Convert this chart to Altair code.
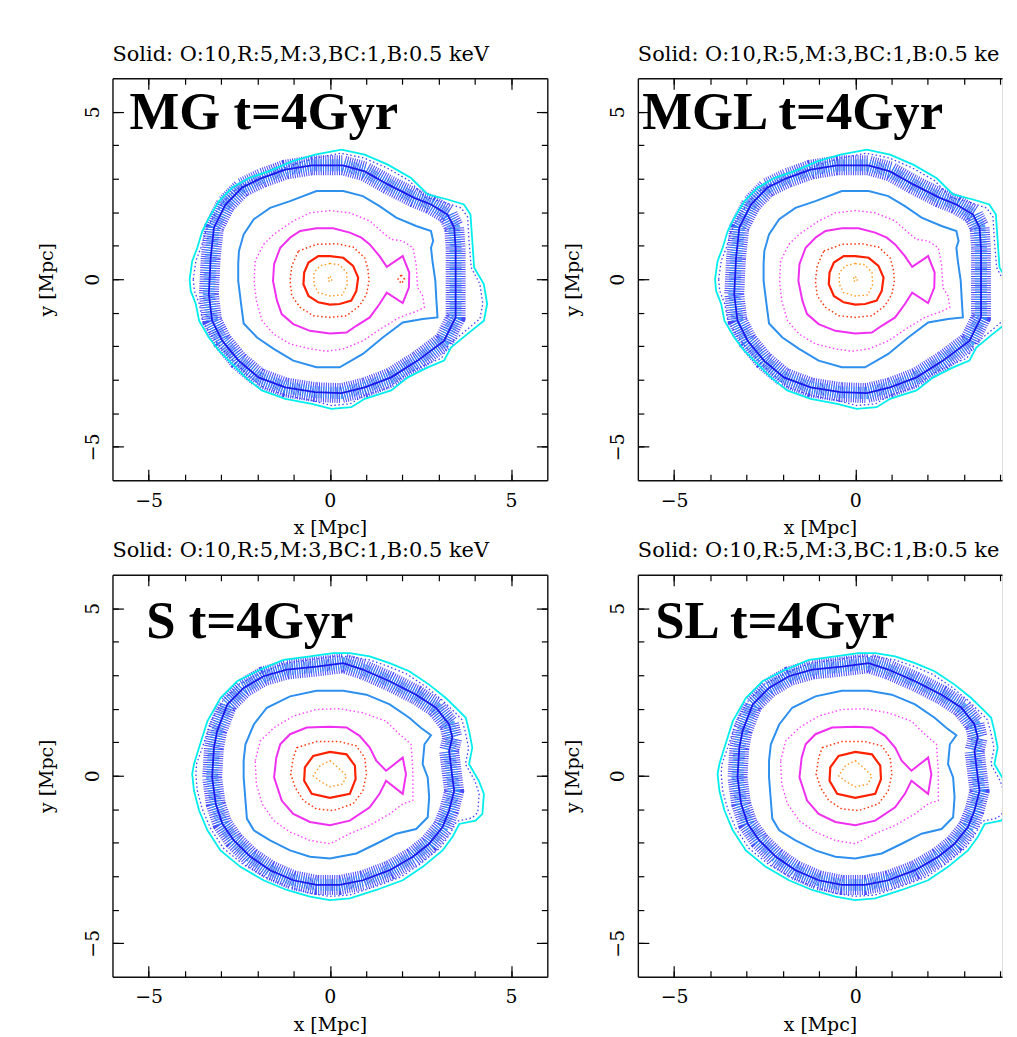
import altair as alt
import pandas as pd

# ---------------- contour data (x, y in Mpc) ----------------
# MG / MGL panels (top row)
TL_ORANGE = [(0, 0.47), (0.27, 0.43), (0.46, 0.2), (0.48, -0.15), (0.35, -0.47), (0, -0.5),
             (-0.32, -0.4), (-0.44, -0.15), (-0.44, 0.2), (-0.27, 0.4)]
TL_CORE = [(0, 0.08), (0.07, 0), (0, -0.08), (-0.07, 0)]
TL_RED = [(0, 0.69), (0.37, 0.64), (0.64, 0.40), (0.78, 0.05), (0.73, -0.35), (0.59, -0.64),
          (0.27, -0.74), (0, -0.76), (-0.32, -0.69), (-0.59, -0.50), (-0.73, -0.15),
          (-0.71, 0.20), (-0.59, 0.50), (-0.32, 0.69)]
TL_REDDOT = [(-0.87, 0.84), (-0.37, 1.04), (0.18, 1.06), (0.64, 0.96), (0.96, 0.64), (1.05, 0.30),
             (1.08, -0.05), (1.01, -0.45), (0.82, -0.79), (0.46, -1.09), (0, -1.14),
             (-0.46, -1.09), (-0.82, -0.84), (-1.05, -0.50), (-1.10, -0.05), (-1.05, 0.40)]
TL_BLOB = [(1.97, 0.13), (2.06, 0), (1.97, -0.13), (1.88, 0)]
TL_MAG = [(-1.10, 1.24), (-0.82, 1.44), (-0.37, 1.52), (0.09, 1.52), (0.55, 1.39), (0.87, 1.24),
          (1.10, 1.04), (1.37, 0.69), (1.57, 0.37), (2.01, 0.69), (2.19, 0.20), (2.18, -0.25),
          (2.01, -0.71), (1.57, -0.40), (1.37, -0.74), (1.10, -1.14), (0.73, -1.39),
          (0.46, -1.59), (0, -1.62), (-0.55, -1.54), (-1.01, -1.34), (-1.33, -1.04),
          (-1.46, -0.64), (-1.57, -0.05), (-1.54, 0.45), (-1.37, 0.94)]
TL_MAGDOT = [(-1.83, 1.04), (-1.55, 1.34), (-1.01, 1.74), (-0.55, 1.98), (0, 2.05), (0.55, 1.98),
             (1.10, 1.74), (1.46, 1.39), (1.69, 1.19), (2.01, 1.14), (2.29, 0.94), (2.38, 0.45),
             (2.42, -0.25), (2.56, -0.50), (2.61, -0.84), (2.38, -0.96), (1.92, -1.14),
             (1.46, -1.44), (0.91, -1.84), (0.37, -2.08), (-0.09, -2.15), (-0.55, -2.08),
             (-1.10, -1.93), (-1.55, -1.64), (-1.87, -1.24), (-2.03, -0.64), (-2.09, -0.05),
             (-2.06, 0.55)]
TL_BLUE = [(-2.53, 0.45), (-2.51, 0.84), (-2.38, 1.34), (-2.10, 1.79), (-1.65, 2.13), (-1.10, 2.33),
           (-0.37, 2.63), (0.37, 2.63), (0.91, 2.48), (1.37, 2.18), (1.83, 1.84), (2.38, 1.59),
           (2.79, 1.44), (2.85, 1.14), (2.79, 0.94), (2.83, 0.55), (2.91, -0.05), (2.94, -0.64),
           (2.97, -1.14), (2.56, -1.19), (2.01, -1.29), (1.46, -1.74), (0.91, -2.23),
           (0.27, -2.63), (-0.37, -2.63), (-1.01, -2.43), (-1.55, -2.08), (-2.01, -1.74),
           (-2.38, -1.32), (-2.45, -0.74), (-2.53, -0.05)]
TL_DARK = [(-3.29, 0.64), (-3.20, 1.54), (-2.88, 2.23), (-2.43, 2.73), (-1.88, 3.02), (-1.23, 3.27),
           (-0.50, 3.40), (0.36, 3.40), (0.96, 3.22), (1.60, 2.83), (2.33, 2.43), (2.79, 2.23),
           (3.25, 1.93), (3.43, 1.54), (3.47, 0.94), (3.47, 0.15), (3.47, -0.65), (3.47, -1.14),
           (3.15, -1.84), (2.42, -2.43), (1.69, -2.93), (0.96, -3.23), (0.32, -3.40),
           (-0.41, -3.37), (-1.23, -3.23), (-1.97, -2.93), (-2.52, -2.43), (-2.97, -1.84),
           (-3.25, -1.24), (-3.34, -0.45)]
TL_CYAN = [(-3.87, 0.0), (-3.80, 0.54), (-3.66, 0.94), (-3.52, 1.44), (-3.34, 1.83), (-3.06, 2.33),
           (-2.70, 2.73), (-2.24, 3.02), (-1.69, 3.22), (-1.05, 3.52), (-0.41, 3.72), (0.32, 3.87),
           (0.96, 3.72), (1.60, 3.42), (2.24, 3.02), (2.70, 2.53), (3.25, 2.38), (3.70, 2.23),
           (3.88, 1.93), (3.93, 1.14), (3.98, 0.35), (4.25, -0.15), (4.34, -0.74), (4.25, -1.24),
           (3.79, -1.64), (3.34, -2.04), (3.15, -2.43), (2.70, -2.63), (2.15, -2.93),
           (1.69, -3.32), (0.96, -3.57), (0.59, -3.82), (0.04, -3.87), (-0.50, -3.72),
           (-1.23, -3.57), (-1.88, -3.32), (-2.33, -2.93), (-2.70, -2.53), (-3.06, -2.13),
           (-3.34, -1.74), (-3.61, -1.24), (-3.70, -0.74), (-3.84, -0.35)]
TL_OUTER = [(-3.77, 0.0), (-3.70, 0.54), (-3.56, 0.94), (-3.42, 1.44), (-3.24, 1.83), (-2.96, 2.28),
            (-2.62, 2.65), (-2.18, 2.93), (-1.65, 3.12), (-1.02, 3.42), (-0.40, 3.62), (0.30, 3.76),
            (0.94, 3.62), (1.56, 3.33), (2.18, 2.95), (2.64, 2.45), (3.20, 2.28), (3.62, 2.13),
            (3.80, 1.86), (3.84, 1.14), (3.90, 0.35), (4.14, -0.15), (4.22, -0.74), (4.14, -1.18),
            (3.72, -1.56), (3.27, -1.97), (3.08, -2.36), (2.64, -2.55), (2.10, -2.84),
            (1.64, -3.22), (0.94, -3.47), (0.56, -3.72), (0.04, -3.77), (-0.50, -3.62),
            (-1.21, -3.47), (-1.84, -3.23), (-2.27, -2.86), (-2.63, -2.47), (-2.98, -2.08),
            (-3.26, -1.70), (-3.52, -1.22), (-3.60, -0.74), (-3.74, -0.35)]

# S / SL panels (bottom row)
S_ORANGE = [(0, 0.45), (0.25, 0.22), (0.46, 0.0), (0.35, -0.25), (0, -0.33), (-0.25, -0.18),
            (-0.46, 0.0), (-0.27, 0.30)]
S_RED = [(0, 0.71), (0.46, 0.64), (0.69, 0.30), (0.71, -0.10), (0.55, -0.54), (0, -0.66),
         (-0.50, -0.54), (-0.71, -0.15), (-0.69, 0.25), (-0.46, 0.59)]
S_REDDOT = [(-0.91, 0.84), (-0.37, 1.02), (0.27, 1.02), (0.73, 0.89), (0.96, 0.54), (1.01, 0.05),
            (0.91, -0.45), (0.64, -0.84), (0.09, -1.04), (-0.37, -0.99), (-0.73, -0.74),
            (-0.96, -0.35), (-1.08, 0.05), (-1.01, 0.54)]
S_MAG = [(-1.37, 0.94), (-1.10, 1.24), (-0.64, 1.44), (0, 1.46), (0.46, 1.44), (0.82, 1.19),
         (1.10, 0.84), (1.28, 0.45), (1.55, 0.15), (2.01, 0.54), (2.10, 0.05), (2.01, -0.54),
         (1.55, -0.15), (1.37, -0.54), (1.10, -0.94), (0.55, -1.34), (0, -1.48), (-0.55, -1.38),
         (-1.01, -1.14), (-1.33, -0.74), (-1.54, -0.05), (-1.48, 0.54)]
S_MAGDOT = [(-2.06, 0.45), (-1.92, 1.04), (-1.55, 1.43), (-1.01, 1.78), (-0.37, 1.98), (0.27, 2.00),
            (0.91, 1.88), (1.55, 1.63), (1.92, 1.24), (2.24, 0.94), (2.29, 0.15), (2.29, -0.74),
            (2.01, -0.84), (1.65, -1.14), (1.10, -1.48), (0.55, -1.73), (0, -2.03),
            (-0.55, -1.93), (-1.10, -1.68), (-1.55, -1.34), (-1.87, -0.84), (-2.03, -0.25)]
S_BLUE = [(-2.38, 0.45), (-2.33, 0.94), (-2.10, 1.53), (-1.74, 2.03), (-1.10, 2.37), (-0.37, 2.54),
          (0.37, 2.54), (1.01, 2.42), (1.65, 2.13), (2.19, 1.73), (2.51, 1.43), (2.79, 1.21),
          (2.61, 0.94), (2.56, 0.35), (2.70, -0.05), (2.74, -0.64), (2.70, -1.24), (2.38, -1.59),
          (1.83, -1.73), (1.28, -2.03), (0.73, -2.32), (0, -2.47), (-0.55, -2.42),
          (-1.10, -2.23), (-1.65, -1.93), (-2.10, -1.63), (-2.29, -1.28), (-2.33, -0.74),
          (-2.38, -0.05)]
S_DARK = [(-3.20, 0.84), (-3.11, 1.34), (-2.83, 2.13), (-2.38, 2.62), (-1.83, 2.97), (-1.19, 3.17),
          (-0.37, 3.26), (0.37, 3.36), (0.91, 3.17), (1.65, 2.82), (2.38, 2.42), (2.93, 2.03),
          (3.29, 1.53), (3.38, 1.14), (3.29, 0.74), (3.38, -0.05), (3.43, -0.45), (3.29, -1.04),
          (3.11, -1.53), (2.74, -2.03), (2.29, -2.42), (1.65, -2.82), (0.91, -3.12),
          (0.27, -3.26), (-0.37, -3.26), (-1.01, -3.12), (-1.65, -2.82), (-2.19, -2.42),
          (-2.65, -1.93), (-2.97, -1.43), (-3.15, -0.84), (-3.25, -0.05)]
S_CYAN = [(-3.75, 0.35), (-3.61, 0.84), (-3.38, 1.63), (-3.02, 2.32), (-2.56, 2.82), (-1.92, 3.17),
          (-1.28, 3.46), (-0.55, 3.56), (0.09, 3.66), (0.55, 3.66), (1.10, 3.56), (1.65, 3.36),
          (2.19, 3.12), (2.74, 2.72), (3.20, 2.32), (3.57, 1.93), (3.75, 1.73), (3.84, 1.34),
          (3.93, 0.84), (3.84, 0.35), (4.11, -0.15), (4.25, -0.54), (4.21, -1.14), (4.02, -1.34),
          (3.57, -1.44), (3.38, -1.83), (3.11, -2.23), (2.56, -2.72), (2.01, -3.12),
          (1.28, -3.41), (0.55, -3.66), (0, -3.71), (-0.55, -3.61), (-1.19, -3.41),
          (-1.83, -3.12), (-2.47, -2.72), (-3.02, -2.23), (-3.38, -1.63), (-3.61, -1.04),
          (-3.75, -0.45), (-3.80, 0.05)]
S_OUTER = [(-3.68, 0.35), (-3.52, 0.84), (-3.29, 1.60), (-2.94, 2.26), (-2.50, 2.74), (-1.88, 3.08),
           (-1.25, 3.36), (-0.55, 3.46), (0.09, 3.56), (0.55, 3.56), (1.08, 3.46), (1.60, 3.27),
           (2.13, 3.03), (2.66, 2.65), (3.10, 2.26), (3.46, 1.88), (3.64, 1.68), (3.74, 1.30),
           (3.83, 0.82), (3.74, 0.35), (4.00, -0.15), (4.12, -0.54), (4.08, -1.10), (3.92, -1.26),
           (3.50, -1.36), (3.30, -1.76), (3.04, -2.15), (2.50, -2.63), (1.96, -3.02),
           (1.25, -3.31), (0.55, -3.56), (0, -3.60), (-0.55, -3.51), (-1.16, -3.31),
           (-1.78, -3.03), (-2.40, -2.64), (-2.94, -2.16), (-3.29, -1.58), (-3.52, -1.00),
           (-3.66, -0.44), (-3.70, 0.05)]

PANEL_LABELS = ["MG t=4Gyr", "MGL t=4Gyr", "S t=4Gyr", "SL t=4Gyr"]
LABEL_X = [-5.53, -5.88, -5.07, -5.52]
LABEL_Y = [4.47, 4.47, 4.10, 4.10]
# the right-hand panels are cut by the picture's edge
SUBTITLES = ["Solid: O:10,R:5,M:3,BC:1,B:0.5  keV", "Solid: O:10,R:5,M:3,BC:1,B:0.5  ke",
             "Solid: O:10,R:5,M:3,BC:1,B:0.5  keV", "Solid: O:10,R:5,M:3,BC:1,B:0.5  ke"]
X_MAX = [6, 4.05, 6, 4.05]
MAJOR_TICKS = [-5, 0, 5]
MINOR_TICKS = [-5, -4, -3, -2, -1, 0, 1, 2, 3, 4, 5]

SETS = [
    dict(orange=[TL_ORANGE, TL_CORE], red=[TL_RED], red_dot=[TL_REDDOT, TL_BLOB], magenta=[TL_MAG],
         magenta_dot=[TL_MAGDOT], blue=[TL_BLUE], darkblue=[TL_DARK], cyan=[TL_CYAN], outer=[TL_OUTER]),
    dict(orange=[TL_ORANGE, TL_CORE], red=[TL_RED], red_dot=[TL_REDDOT], magenta=[TL_MAG],
         magenta_dot=[TL_MAGDOT], blue=[TL_BLUE], darkblue=[TL_DARK], cyan=[TL_CYAN], outer=[TL_OUTER]),
    dict(orange=[S_ORANGE], red=[S_RED], red_dot=[S_REDDOT], magenta=[S_MAG],
         magenta_dot=[S_MAGDOT], blue=[S_BLUE], darkblue=[S_DARK], cyan=[S_CYAN], outer=[S_OUTER]),
    dict(orange=[S_ORANGE], red=[S_RED], red_dot=[S_REDDOT], magenta=[S_MAG],
         magenta_dot=[S_MAGDOT], blue=[S_BLUE], darkblue=[S_DARK], cyan=[S_CYAN], outer=[S_OUTER]),
]

# ---------------- styles ----------------
FONT = "DejaVu Serif"
DOT = [1.5, 2.5]
STYLES = {
    "band": dict(color="#2a2aff", strokeWidth=20, strokeDash=[1, 1.3], opacity=0.85),
    "band2": dict(color="#2f95ff", strokeWidth=12, strokeDash=[1, 1.6], strokeDashOffset=1, opacity=0.85),
    "outer": dict(color="#4040ff", strokeWidth=1.3, strokeDash=DOT),
    "cyan": dict(color="#00eeee", strokeWidth=1.8),
    "darkblue": dict(color="#1a1aee", strokeWidth=1.8),
    "blue": dict(color="#2e90ee", strokeWidth=2),
    "magenta_dot": dict(color="#ff44ff", strokeWidth=1.4, strokeDash=DOT),
    "magenta": dict(color="#f030f0", strokeWidth=2),
    "red_dot": dict(color="#ff3810", strokeWidth=1.5, strokeDash=DOT),
    "red": dict(color="#ff2200", strokeWidth=2.2),
    "orange": dict(color="#ff9a22", strokeWidth=1.4, strokeDash=DOT),
}
SOURCE = {"band": "darkblue", "band2": "darkblue"}
ORDER = ["band", "band2", "outer", "cyan", "darkblue", "blue", "magenta_dot", "magenta",
         "red_dot", "red", "orange"]

PX_PER_UNIT = 437 / 12
H = 404
FRAME = "#111111"


def tick_axis(orient, values, size, labels=False, title=None):
    kw = dict(orient=orient, values=values, tickSize=size, offset=-size, domain=False, grid=False,
              ticks=True, tickColor="black", tickWidth=1.2, labels=labels, title=title)
    if labels:
        kw.update(labelFont=FONT, labelFontSize=19, labelColor="black")
        if orient == "bottom":
            kw.update(labelPadding=11)
        else:
            kw.update(labelPadding=14, labelAngle=270, labelAlign="center",
                      labelBaseline="alphabetic")
    if title:
        kw.update(titleFont=FONT, titleFontSize=19, titleFontWeight="normal", titleColor="black",
                  titlePadding=9 if orient == "bottom" else 27)
    return alt.Axis(**kw)


def frame_axis(orient):
    return alt.Axis(orient=orient, domain=True, domainColor=FRAME, domainWidth=1.4, ticks=False,
                    labels=False, grid=False, title=None)


def frame_for(contours):
    rows = []
    for cid, pts in enumerate(contours):
        for i, (x, y) in enumerate(pts):
            rows.append(dict(cid=cid, order=i, x=x, y=y))
    return pd.DataFrame(rows)


def panel(idx):
    cset = SETS[idx]
    xmax = X_MAX[idx]
    full = xmax >= 6
    width = round((xmax + 6) * PX_PER_UNIT)
    xs = alt.Scale(domain=[-6, xmax], nice=False, zero=False)
    ys = alt.Scale(domain=[-6, 6], nice=False, zero=False)
    xmaj = [v for v in MAJOR_TICKS if v < xmax]
    xmin = [v for v in MINOR_TICKS if v < xmax]
    axes = {
        "cyan": (tick_axis("bottom", xmaj, 11, True, "x [Mpc]"),
                 tick_axis("left", MAJOR_TICKS, 11, True, "y [Mpc]")),
        "darkblue": (tick_axis("bottom", xmin, 6), tick_axis("left", MINOR_TICKS, 6)),
        "blue": (tick_axis("top", xmaj, 11), tick_axis("right", MAJOR_TICKS, 11) if full else None),
        "magenta": (tick_axis("top", xmin, 6), tick_axis("right", MINOR_TICKS, 6) if full else None),
        "outer": (frame_axis("bottom"), frame_axis("left")),
        "band2": (frame_axis("top"), frame_axis("right") if full else None),
    }
    layers = []
    for kind in ORDER:
        df = frame_for(cset[SOURCE.get(kind, kind)])
        xa, ya = axes.get(kind, (None, None))
        layers.append(
            alt.Chart(df).mark_line(interpolate="linear-closed", clip=True, **STYLES[kind]).encode(
                x=alt.X("x:Q", scale=xs, axis=xa),
                y=alt.Y("y:Q", scale=ys, axis=ya),
                detail="cid:N",
                order="order:Q",
            )
        )
    lab = pd.DataFrame([dict(x=LABEL_X[idx], y=LABEL_Y[idx], label=PANEL_LABELS[idx])])
    layers.append(
        alt.Chart(lab).mark_text(font="Liberation Serif", fontWeight="bold", fontSize=53,
                                 align="left", baseline="alphabetic", color="black").encode(
            x=alt.X("x:Q", scale=xs, axis=None),
            y=alt.Y("y:Q", scale=ys, axis=None),
            text="label:N",
        )
    )
    return alt.layer(*layers).resolve_axis(x="independent", y="independent").properties(
        width=width, height=H,
        title=alt.TitleParams(text=SUBTITLES[idx], anchor="start", font=FONT, fontSize=21,
                              fontWeight="normal", color="black", offset=-4,
                              baseline="alphabetic", frame="group"),
    )


chart = alt.concat(panel(0), panel(1), panel(2), panel(3), columns=2,
                   spacing=alt.RowColnumber(row=95, column=91), bounds="flush").properties(
    padding={"left": 29, "top": 32, "right": 2, "bottom": 2}
).configure_view(strokeWidth=0).configure(background="white")

chart.save("out.html", embed_options={"renderer": "svg", "actions": False})
